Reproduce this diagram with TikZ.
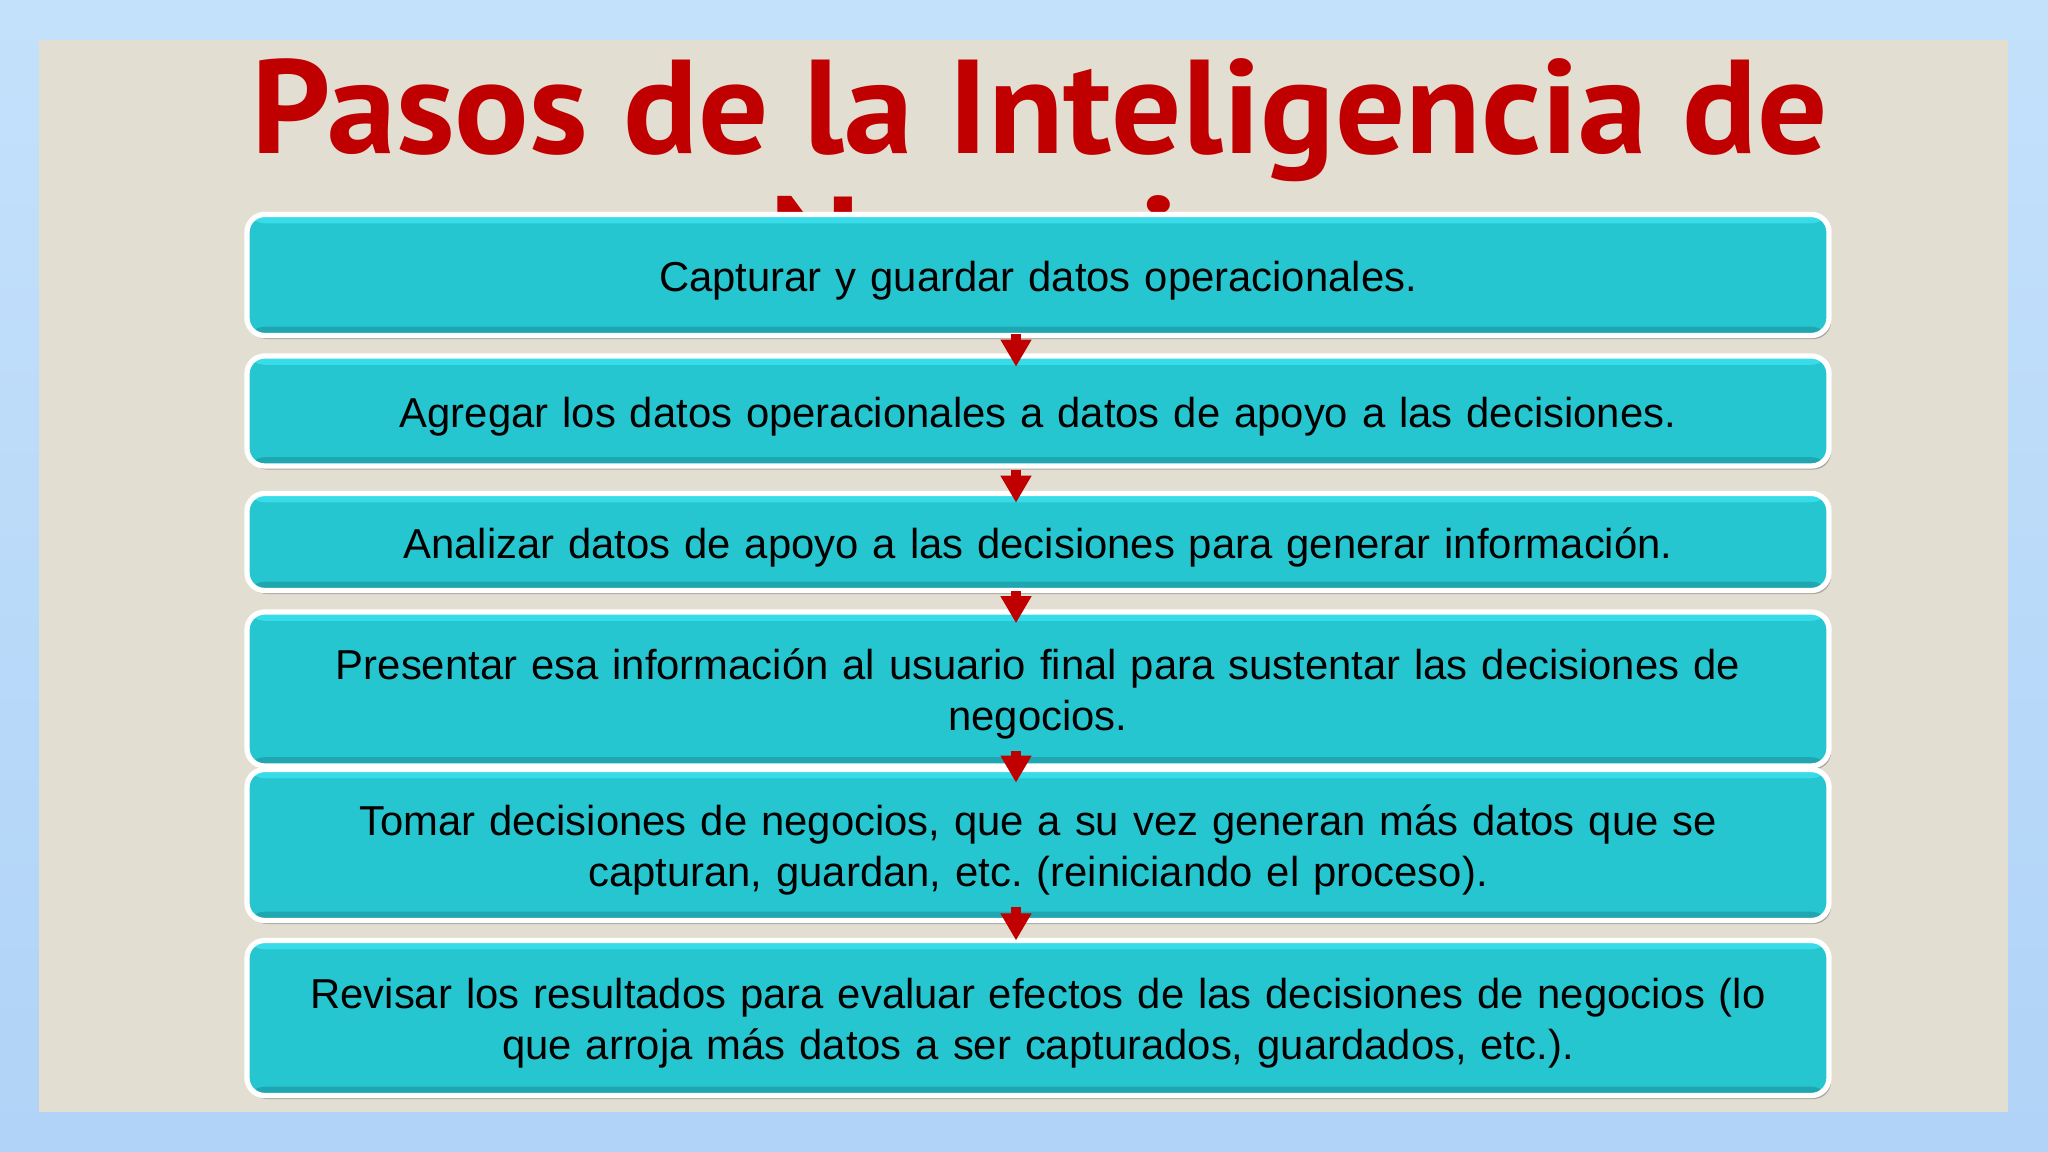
\documentclass[tikz,border=0pt]{standalone}
\usepackage{fontspec}
\setmainfont{Liberation Sans}
\newfontfamily\titlefont[FakeStretch=1.04]{PT Sans}
\usetikzlibrary{arrows.meta,calc,shadows}
\pgfdeclarelayer{bglayer}
\pgfsetlayers{bglayer,main}
\definecolor{sky}{HTML}{C4E1FB}
\definecolor{skylow}{HTML}{B0D3F7}
\definecolor{panel}{HTML}{E3DED2}
\definecolor{titlered}{HTML}{C00000}
\definecolor{boxteal}{HTML}{26C6D0}
\definecolor{boxtop}{HTML}{38DCE8}
\definecolor{boxbot}{HTML}{1FA6B0}
\tikzstyle{titletext}=[font=\titlefont\bfseries\fontsize{38}{46}\selectfont, text=titlered, inner sep=0pt]
\tikzstyle{stepbox}=[rectangle, draw=white, line width=1.5pt, fill=boxteal, rounded corners=5pt,
  minimum width=158.2mm, text width=156mm, align=center, inner sep=0pt,
  font=\fontsize{11.9}{14.5}\selectfont, execute at begin node={\frenchspacing\rule{0pt}{11.6pt}},
  drop shadow={shadow xshift=0.6pt, shadow yshift=-1pt, fill=black, opacity=0.25},
  path picture={\fill[boxtop] (path picture bounding box.north west) rectangle ([yshift=-2.5pt]path picture bounding box.north east);
    \fill[boxbot] ([yshift=2.5pt]path picture bounding box.south west) rectangle (path picture bounding box.south east);}]
\tikzstyle{flow}=[draw=titlered, line width=2.8pt, -{Triangle[width=8.3pt,length=7.7pt]}]

\begin{document}
\begin{tikzpicture}[x=0.1mm, y=-0.1mm]
	\begin{pgfonlayer}{bglayer}
		\shade [top color=sky, bottom color=skylow] (0, 0) rectangle (2048, 1152);
		\fill [panel] (39, 40) rectangle (2008, 1112);
	\end{pgfonlayer}
	\useasboundingbox (0, 0) rectangle (2048, 1152);
	\node [style=titletext, anchor=base] (title) at (1040, 154) {Pasos de la Inteligencia de};
	\node [style=titletext, anchor=base] (title2) at (1040, 291) {Negocios};
	\node [style=stepbox, minimum height=12.1mm] (b1) at (1038, 275) {Capturar y guardar datos operacionales.};
	\node [style=stepbox, minimum height=11.0mm] (b2) at (1038, 411) {Agregar los datos operacionales a datos de apoyo a las decisiones.};
	\node [style=stepbox, minimum height=9.7mm] (b3) at (1038, 542) {Analizar datos de apoyo a las decisiones para generar información.};
	\node [style=stepbox, minimum height=15.4mm] (b4) at (1038, 689) {Presentar esa información al usuario final para sustentar las decisiones de\\negocios.};
	\node [style=stepbox, minimum height=15.1mm] (b5) at (1038, 845) {Tomar decisiones de negocios, que a su vez generan más datos que se\\capturan, guardan, etc. (reiniciando el proceso).};
	\node [style=stepbox, minimum height=15.5mm] (b6) at (1038, 1018) {Revisar los resultados para evaluar efectos de las decisiones de negocios (lo\\que arroja más datos a ser capturados, guardados, etc.).};
	\draw [style=flow] ($(b1.south)!0.5!(b2.north)+(-22,-12)$) -- ($(b1.south)!0.5!(b2.north)+(-22,21)$);
	\draw [style=flow] ($(b2.south)!0.5!(b3.north)+(-22,-10)$) -- ($(b2.south)!0.5!(b3.north)+(-22,23)$);
	\draw [style=flow] ($(b3.south)!0.5!(b4.north)+(-22,-10)$) -- ($(b3.south)!0.5!(b4.north)+(-22,22)$);
	\draw [style=flow] ($(b4.south)!0.5!(b5.north)+(-22,-17)$) -- ($(b4.south)!0.5!(b5.north)+(-22,15)$);
	\draw [style=flow] ($(b5.south)!0.5!(b6.north)+(-22,-23)$) -- ($(b5.south)!0.5!(b6.north)+(-22,10)$);
\end{tikzpicture}
\end{document}
